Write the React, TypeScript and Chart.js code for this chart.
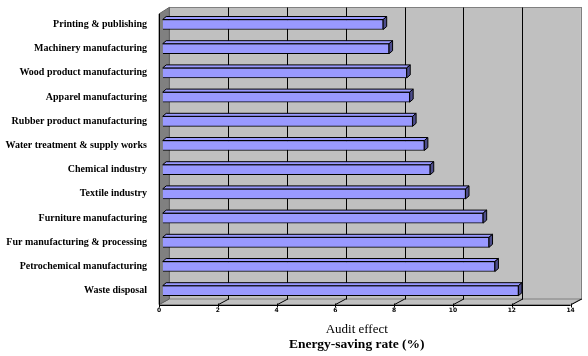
import React, { useEffect, useRef } from "react";
import { Chart, registerables } from "chart.js";

Chart.register(...registerables);

const categories = [
  "Printing & publishing",
  "Machinery manufacturing",
  "Wood product manufacturing",
  "Apparel manufacturing",
  "Rubber product manufacturing",
  "Water treatment & supply works",
  "Chemical industry",
  "Textile industry",
  "Furniture manufacturing",
  "Fur manufacturing & processing",
  "Petrochemical manufacturing",
  "Waste disposal",
];
const savingRates = [7.5, 7.7, 8.3, 8.4, 8.5, 8.9, 9.1, 10.3, 10.9, 11.1, 11.3, 12.1];
const xTicks = [0, 2, 4, 6, 8, 10, 12, 14];
const axisTitle = "Audit effect";
const axisSubtitle = "Energy-saving rate (%)";

const BACK_DX = 6.6;
const FRONT_DX = -3.7;
const BAR_DX = 3.5;
const BAR_DY = 3;

const crisp = (v: number) => Math.round(v) + 0.5;

const walls3d = {
  id: "walls3d",
  beforeDatasetsDraw(chart: any) {
    const ctx: CanvasRenderingContext2D = chart.ctx;
    const xs = chart.scales.x;
    const ca = chart.chartArea;
    const px = (v: number) => xs.getPixelForValue(v);
    const x0 = px(xTicks[0]);
    const xN = px(xTicks[xTicks.length - 1]);
    const backTop = ca.top - 5;
    const backBot = ca.bottom - 3.8;
    const frontTop = ca.top + 1.5;
    const frontBot = ca.bottom + 1.8;
    ctx.save();
    ctx.lineWidth = 1;

    // back wall
    ctx.fillStyle = "#C0C0C0";
    ctx.fillRect(x0 + BACK_DX, backTop, xN - x0, backBot - backTop);
    ctx.strokeStyle = "#808080";
    ctx.strokeRect(crisp(x0 + BACK_DX), crisp(backTop), Math.round(xN - x0), Math.round(backBot - backTop));

    // floor
    ctx.beginPath();
    ctx.moveTo(x0 + FRONT_DX, frontBot);
    ctx.lineTo(x0 + BACK_DX, backBot);
    ctx.lineTo(xN + BACK_DX, backBot);
    ctx.lineTo(xN + FRONT_DX, frontBot);
    ctx.closePath();
    ctx.fillStyle = "#C0C0C0";
    ctx.fill();
    ctx.strokeStyle = "#808080";
    ctx.stroke();

    // left wall
    ctx.beginPath();
    ctx.moveTo(x0 + FRONT_DX, frontTop);
    ctx.lineTo(x0 + BACK_DX, backTop);
    ctx.lineTo(x0 + BACK_DX, backBot);
    ctx.lineTo(x0 + FRONT_DX, frontBot);
    ctx.closePath();
    ctx.fillStyle = "#808080";
    ctx.fill();
    ctx.strokeStyle = "#606060";
    ctx.stroke();

    // gridlines on back wall
    ctx.strokeStyle = "#000000";
    xTicks.forEach((v, i) => {
      if (i === 0 || i === xTicks.length - 1) return;
      const gx = crisp(px(v) + BACK_DX);
      ctx.beginPath();
      ctx.moveTo(gx, crisp(backTop));
      ctx.lineTo(gx, crisp(backBot));
      ctx.stroke();
    });

    // front floor edge
    ctx.strokeStyle = "#000000";
    ctx.beginPath();
    ctx.moveTo(x0 + FRONT_DX, crisp(frontBot));
    ctx.lineTo(xN + FRONT_DX, crisp(frontBot));
    ctx.stroke();
    ctx.beginPath();
    ctx.moveTo(crisp(x0 + FRONT_DX), frontTop);
    ctx.lineTo(crisp(x0 + FRONT_DX), frontBot);
    ctx.stroke();

    // tick marks and floor diagonals
    xTicks.forEach((v) => {
      const fx = crisp(px(v) + FRONT_DX);
      ctx.beginPath();
      ctx.moveTo(fx, crisp(frontBot) - 2);
      ctx.lineTo(fx, crisp(frontBot) + 2);
      ctx.stroke();
      if (v > 0) {
        ctx.beginPath();
        ctx.moveTo(fx, crisp(frontBot) - 1);
        ctx.lineTo(fx + (BACK_DX - FRONT_DX), backBot);
        ctx.stroke();
      }
    });

    // tick labels
    ctx.fillStyle = "#000000";
    ctx.font = "bold 6px 'DejaVu Sans'";
    ctx.textAlign = "center";
    ctx.textBaseline = "middle";
    xTicks.forEach((v) => {
      ctx.fillText(String(v), px(v) + FRONT_DX, frontBot + 6);
    });

    // axis titles
    const cx = px(6.6);
    ctx.font = "13px 'Liberation Serif'";
    ctx.fillText(axisTitle, cx, frontBot + 25);
    ctx.font = "bold 13.5px 'Liberation Serif'";
    ctx.fillText(axisSubtitle, cx, frontBot + 40);
    ctx.restore();
  },
  afterDatasetsDraw(chart: any) {
    const ctx: CanvasRenderingContext2D = chart.ctx;
    const meta = chart.getDatasetMeta(0);
    ctx.save();
    ctx.lineWidth = 1;
    ctx.strokeStyle = "#000000";
    meta.data.forEach((bar: any) => {
      const { x, y, base, height } = bar.getProps(["x", "y", "base", "height"], true);
      const top = y - height / 2;
      const bot = y + height / 2;
      // top face
      ctx.beginPath();
      ctx.moveTo(base, top);
      ctx.lineTo(base + BAR_DX, top - BAR_DY);
      ctx.lineTo(x + BAR_DX, top - BAR_DY);
      ctx.lineTo(x, top);
      ctx.closePath();
      ctx.fillStyle = "#9999FF";
      ctx.fill();
      ctx.stroke();
      // side face
      ctx.beginPath();
      ctx.moveTo(x, top);
      ctx.lineTo(x + BAR_DX, top - BAR_DY);
      ctx.lineTo(x + BAR_DX, bot - BAR_DY);
      ctx.lineTo(x, bot);
      ctx.closePath();
      ctx.fillStyle = "#4D4D8C";
      ctx.fill();
      ctx.stroke();
    });
    ctx.restore();
  },
};

export default function App() {
  const ref = useRef<HTMLCanvasElement | null>(null);
  useEffect(() => {
    if (!ref.current) return;
    const chart = new Chart(ref.current, {
      type: "bar",
      data: {
        labels: categories,
        datasets: [
          {
            data: savingRates,
            backgroundColor: "#9999FF",
            borderColor: "#000000",
            borderWidth: 1,
            barThickness: 10,
          },
        ],
      },
      options: {
        indexAxis: "y",
        responsive: false,
        animation: false,
        layout: { padding: { top: 12.4, right: 13.7, left: 0, bottom: 0 } },
        plugins: { legend: { display: false }, tooltip: { enabled: false } },
        scales: {
          x: {
            type: "linear",
            min: 0,
            max: 14,
            grid: { display: false },
            border: { display: false },
            ticks: { display: false, stepSize: 2 },
            afterFit: (s: any) => {
              s.height = 53.2;
              s.paddingLeft = 0;
              s.paddingRight = 0;
            },
          },
          y: {
            type: "category",
            grid: { display: false, drawTicks: false },
            border: { display: false },
            ticks: {
              autoSkip: false,
              color: "#000000",
              padding: 15.7,
              font: { family: "'Liberation Serif'", size: 10, weight: "bold" },
            },
            afterFit: (s: any) => {
              s.width = 162.7;
              s.paddingTop = 0;
              s.paddingBottom = 0;
            },
          },
        },
      },
      plugins: [walls3d],
    });
    return () => chart.destroy();
  }, []);
  return (
    <div style={{ position: "fixed", left: 0, top: 0, width: 588, height: 356, background: "#ffffff" }}>
      <canvas ref={ref} width={588} height={356} />
    </div>
  );
}
